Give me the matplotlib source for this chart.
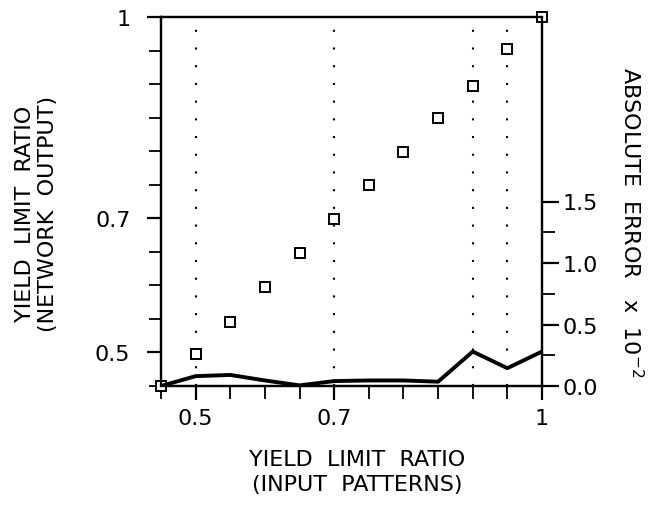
import matplotlib
matplotlib.use("Agg")
import matplotlib.pyplot as plt

# yield limit ratio: input patterns vs network output
x_input = [0.45, 0.50, 0.55, 0.60, 0.65, 0.70, 0.75, 0.80, 0.85, 0.90, 0.95, 1.00]
y_network = [0.45, 0.498, 0.546, 0.598, 0.648, 0.699, 0.749, 0.799, 0.85, 0.897, 0.952, 1.0]
# absolute error (x 10^-2)
abs_error = [0.0, 0.08, 0.09, 0.045, 0.005, 0.04, 0.045, 0.045, 0.035, 0.28, 0.145, 0.28]

x_ticks = [0.5, 0.7, 1.0]
x_ticklabels = ["0.5", "0.7", "1"]
y_ticks = [0.5, 0.7, 1.0]
y_ticklabels = ["0.5", "0.7", "1"]
err_ticks = [0.0, 0.5, 1.0, 1.5]
err_ticklabels = ["0.0", "0.5", "1.0", "1.5"]
dotted_x = [0.5, 0.7, 0.9, 0.95]

plt.rcParams["font.family"] = ["DejaVu Sans"]

fig = plt.figure(figsize=(6.6, 5.06), dpi=100)
ax = fig.add_axes([161 / 660, 119 / 506, 381 / 660, 369 / 506])
ax2 = ax.twinx()

for xv in dotted_x:
  ax.axvline(xv, color="black", lw=1.5, linestyle=(0, (1, 7.5)), zorder=1)

ax.plot(x_input, y_network, linestyle="none", marker="s", markersize=7.5,
        markerfacecolor="white", markeredgecolor="black", markeredgewidth=1.4,
        clip_on=False, zorder=3)

ax2.plot(x_input, abs_error, color="black", lw=2.8, solid_joinstyle="round", zorder=2)

ax.set_xlim(0.45, 1.0)
ax.set_ylim(0.45, 1.0)
ax2.set_ylim(0.0, 3.0)

minor_steps = [round(0.45 + 0.05 * i, 2) for i in range(12)]
ax.set_xticks(x_ticks)
ax.set_xticklabels(x_ticklabels)
ax.set_xticks(minor_steps, minor=True)
ax.set_yticks(y_ticks)
ax.set_yticklabels(y_ticklabels)
ax.set_yticks(minor_steps, minor=True)
ax2.set_yticks(err_ticks)
ax2.set_yticklabels(err_ticklabels)
ax2.set_yticks([0.25, 0.75, 1.25], minor=True)

for a in (ax, ax2):
  for s in a.spines.values():
    s.set_linewidth(1.6)
  a.tick_params(which="major", direction="out", length=10, width=1.6, labelsize=16)
  a.tick_params(which="minor", direction="out", length=9, width=1.3)

ax.tick_params(axis="x", which="both", top=False, pad=6)
ax.tick_params(axis="y", which="major", pad=12)
ax2.tick_params(axis="y", which="major", length=12, pad=3)

ax.set_xlabel("YIELD  LIMIT  RATIO\n(INPUT  PATTERNS)", fontsize=16, linespacing=1.3)
ax.xaxis.set_label_coords(0.514, -0.17)
ax.xaxis.label.set_va("top")
ax.set_ylabel("YIELD  LIMIT  RATIO\n(NETWORK  OUTPUT)", fontsize=16, linespacing=1.2)
ax.yaxis.set_label_coords(-0.27, 0.47)

ax.text(1.235, 0.447, "ABSOLUTE  ERROR   x  10$^{-2}$", transform=ax.transAxes,
        rotation=-90, ha="center", va="center", fontsize=16)

fig.savefig("out.png", dpi=100)
